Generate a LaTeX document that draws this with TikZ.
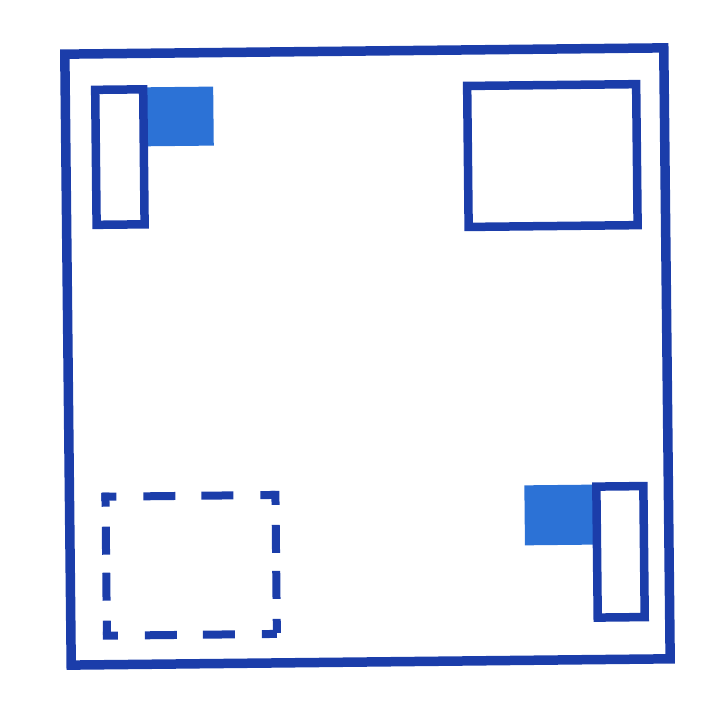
\documentclass[tikz,border=0pt]{standalone}
\definecolor{edgeblue}{HTML}{1B3DAA}
\definecolor{fillblue}{HTML}{2C72D6}
\tikzset{
  outerbox/.style={draw=edgeblue,line width=9.5pt,line join=miter},
  innerbox/.style={draw=edgeblue,line width=8.5pt,line join=miter},
  filledbox/.style={fill=fillblue,draw=none},
  dashside/.style={draw=edgeblue,line width=8pt,line cap=rect}
}
\begin{document}
\begin{tikzpicture}[x=1pt,y=-1pt]
\useasboundingbox (0,0) rectangle (722,722);
\begin{scope}[rotate around={0.6:(366,358)}]
  % outer frame
  \draw[outerbox] (68,51) rectangle (667,662);
  % top-left: filled square and tall narrow box
  \fill[filledbox] (147,85) rectangle (216,144);
  \draw[innerbox] (98,87) rectangle (146,222);
  % top-right plain box
  \draw[innerbox] (470,87) rectangle (639,228);
  % bottom-right: filled square and tall narrow box
  \fill[filledbox] (523,487) rectangle (594,547);
  \draw[innerbox] (595,489) rectangle (642,620);
  % bottom-left dashed box
  \coordinate (d1) at (104,494);
  \coordinate (d2) at (274,494);
  \coordinate (d3) at (274,633);
  \coordinate (d4) at (104,633);
  \draw[dashside,dash pattern=on 7pt off 35pt on 24pt off 34pt on 24pt off 35pt on 7pt] (d1) -- (d2);
  \draw[dashside,dash pattern=on 7pt off 35pt on 24pt off 34pt on 24pt off 35pt on 7pt] (d4) -- (d3);
  \draw[dashside,dash pattern=on 6pt off 28pt on 20pt off 26pt on 20pt off 28pt on 6pt] (d1) -- (d4);
  \draw[dashside,dash pattern=on 6pt off 28pt on 20pt off 26pt on 20pt off 28pt on 6pt] (d2) -- (d3);
\end{scope}
\end{tikzpicture}
\end{document}
